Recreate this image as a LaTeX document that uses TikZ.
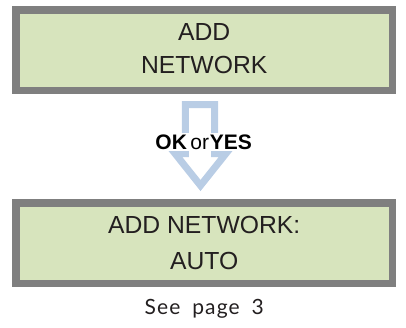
\documentclass[tikz,border=0pt]{standalone}
\usepackage{fontspec}
\setmainfont{Liberation Sans}
\newfontfamily\latofont[LetterSpace=5.5,WordSpace=1.8]{Lato}
\definecolor{lcdfill}{HTML}{D7E4BD}
\definecolor{lcdframe}{HTML}{7F7F7F}
\definecolor{arrowblue}{HTML}{B9CDE5}
\definecolor{inkdark}{HTML}{231F20}
\tikzset{
  lcdbox/.style={draw=lcdframe, fill=lcdfill, line width=7.5pt, minimum width=376.3pt, minimum height=80.5pt, inner sep=0pt},
  lcdtext/.style={anchor=base, inner sep=0pt, text=inkdark, font=\fontsize{24.7pt}{30pt}\selectfont},
  keytext/.style={anchor=base, inner sep=1.5pt, fill=white, text=black, font=\fontsize{21pt}{25pt}\selectfont},
  notetext/.style={anchor=base, inner sep=0pt, text=inkdark, font=\latofont\fontsize{21pt}{24pt}\selectfont},
  flowarrow/.style={draw=arrowblue, line width=7pt, miter limit=10, fill=white}
}
\begin{document}
\begin{tikzpicture}[x=1pt, y=-1pt]
\useasboundingbox (0,0) rectangle (406,327);
% boxes
\node[lcdbox] (top) at (204.2,50) {};
\node[lcdbox] (bottom) at (204.2,243) {};
% arrow
\coordinate (a1) at (185.3,104.5);
\coordinate (a2) at (214.7,104.5);
\coordinate (a3) at (214.7,153.5);
\coordinate (a4) at (226,153.5);
\coordinate (a5) at (200.5,185.5);
\coordinate (a6) at (175,153.5);
\coordinate (a7) at (185.3,153.5);
\draw[flowarrow] (a1) -- (a2) -- (a3) -- (a4) -- (a5) -- (a6) -- (a7) -- cycle;
% texts
\node[lcdtext] (t1) at (204.2,40) {ADD};
\node[lcdtext] (t2) at (204.2,73.7) {NETWORK};
\node[lcdtext] (t3) at (204.2,233.3) {ADD NETWORK:};
\node[lcdtext] (t4) at (204.2,269) {AUTO};
\node[keytext] (key) at (203.7,149) {\textbf{OK}\kern3.5pt or\kern0.8pt\textbf{YES}};
\node[notetext] (note) at (204.2,314) {See page 3};
\end{tikzpicture}
\end{document}
